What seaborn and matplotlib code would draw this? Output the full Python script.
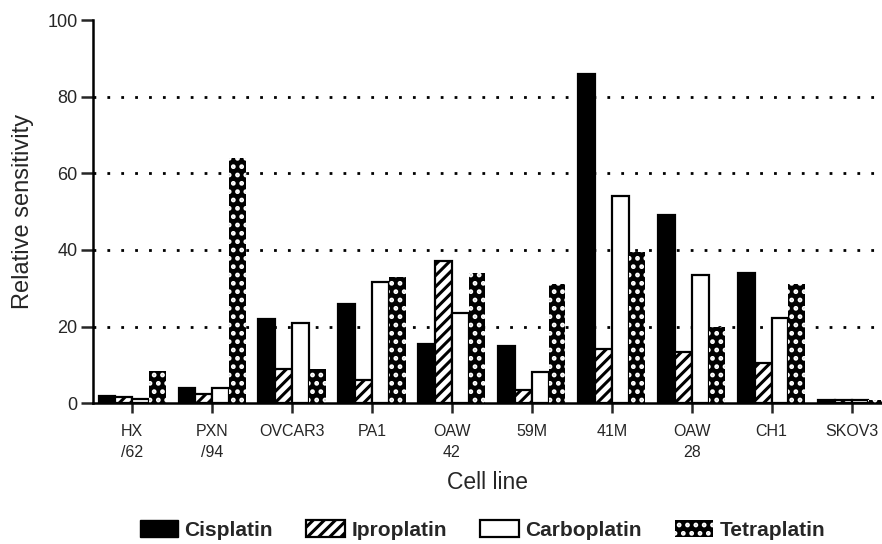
import matplotlib
matplotlib.use("Agg")
import matplotlib.pyplot as plt
import seaborn as sns
import pandas as pd
from matplotlib.patches import Patch

cell_lines = ["HX\n/62", "PXN\n/94", "OVCAR3", "PA1", "OAW\n42", "59M", "41M", "OAW\n28", "CH1", "SKOV3"]
drugs = ["Cisplatin", "Iproplatin", "Carboplatin", "Tetraplatin"]
cisplatin   = [1.8, 4.0, 22.0, 26.0, 15.5, 15.0, 86.0, 49.0, 34.0, 0.8]
iproplatin  = [1.5, 2.5, 9.0, 6.0, 37.0, 3.5, 14.0, 13.3, 10.5, 0.8]
carboplatin = [1.2, 4.0, 21.0, 31.5, 23.5, 8.0, 54.0, 33.5, 22.3, 0.8]
tetraplatin = [8.3, 64.0, 9.0, 33.0, 34.0, 31.0, 39.5, 20.0, 31.0, 0.8]
y_ticks = [0, 20, 40, 60, 80, 100]

rows = []
for name, vals in zip(drugs, [cisplatin, iproplatin, carboplatin, tetraplatin]):
    for c, v in zip(cell_lines, vals):
        rows.append({"cell": c, "drug": name, "value": v})
df = pd.DataFrame(rows)

sns.set_style("white")
plt.rcParams["font.family"] = ["Liberation Sans", "DejaVu Sans"]
plt.rcParams["hatch.linewidth"] = 2.2

fig = plt.figure(figsize=(8.82, 5.44), dpi=100)
ax = fig.add_axes([0.1054, 0.259, 0.8946, 0.704])

palette = {"Cisplatin": "black", "Iproplatin": "white", "Carboplatin": "white", "Tetraplatin": "black"}
sns.barplot(data=df, x="cell", y="value", hue="drug", hue_order=drugs, order=cell_lines,
            palette=palette, width=0.84, edgecolor="black", linewidth=1.6,
            errorbar=None, legend=False, ax=ax, zorder=3)

for cont, drug in zip(ax.containers, drugs):
    for p in cont:
        if drug == "Iproplatin":
            p.set_hatch("///")
        elif drug == "Tetraplatin":
            p.set_hatch("..")
            p.set_edgecolor("white")
            p.set_linewidth(0)

ax.set_ylim(0, 100)
ax.set_xlim(-0.49, 9.38)
ax.set_yticks(y_ticks)
ax.set_yticklabels([str(t) for t in y_ticks], fontsize=13)
ax.tick_params(axis="y", direction="out", length=9, width=1.8, left=True, pad=2)
ax.tick_params(axis="x", direction="out", length=7, width=1.8, bottom=True, labelsize=11.5, pad=8)
for lbl in ax.get_xticklabels():
    lbl.set_linespacing(1.5)
for s in ["top", "right"]:
    ax.spines[s].set_visible(False)
for s in ["left", "bottom"]:
    ax.spines[s].set_linewidth(1.8)
    ax.spines[s].set_color("black")

for yv in [20, 40, 60, 80]:
    ax.axhline(yv, color="black", linestyle=(0, (1, 4)), linewidth=2, zorder=1)

ax.set_ylabel("Relative sensitivity", fontsize=17, labelpad=10)
ax.set_xlabel("Cell line", fontsize=16.5, labelpad=8)

handles = [
    Patch(facecolor="black", edgecolor="black", label="Cisplatin"),
    Patch(facecolor="white", edgecolor="black", hatch="///", linewidth=1.6, label="Iproplatin"),
    Patch(facecolor="white", edgecolor="black", linewidth=1.6, label="Carboplatin"),
    Patch(facecolor="black", edgecolor="white", hatch="..", linewidth=0, label="Tetraplatin"),
]
leg = fig.legend(handles=handles, loc="center", bbox_to_anchor=(0.547, 0.026), ncol=4,
                 frameon=False, fontsize=15, handlelength=1.85, handleheight=0.85,
                 columnspacing=1.6, handletextpad=0.3, borderpad=0.1)
for t in leg.get_texts():
    t.set_fontweight("bold")

fig.savefig("out.png", dpi=100)
